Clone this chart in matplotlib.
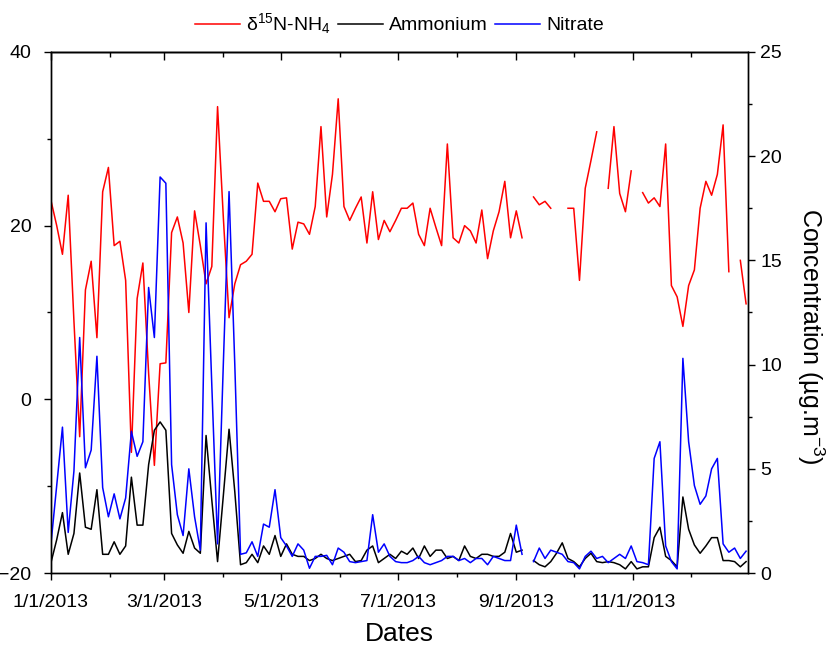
import numpy as np
import pandas as pd
import matplotlib
matplotlib.use("Agg")
from matplotlib import pyplot as plt
import matplotlib.dates as mdates
from matplotlib.ticker import MultipleLocator, FuncFormatter

plt.rcParams['font.family'] = ['Liberation Sans', 'DejaVu Sans']
plt.rcParams['mathtext.default'] = 'regular'

nan = np.nan

# samples every 3 days through 2013
dates = pd.date_range('2013-01-01', periods=122, freq='3D')

# delta 15N of NH4 (per mil), left axis
d15n = [22.9, 20.0, 16.7, 23.5, 9.0, -4.3, 12.6, 15.9, 7.1, 23.9,
        26.7, 17.7, 18.2, 13.7, -6.1, 11.6, 15.7, 3.0, -7.6, 4.1,
        4.2, 19.2, 21.0, 18.0, 10.0, 21.7, 17.7, 13.3, 15.3, 33.7,
        21.0, 9.4, 13.3, 15.5, 15.9, 16.7, 24.9, 22.8, 22.8, 21.6,
        23.1, 23.2, 17.3, 20.4, 20.2, 19.0, 22.2, 31.4, 21.0, 25.9,
        34.6, 22.2, 20.6, 22.0, 23.3, 18.0, 23.9, 18.4, 20.6, 19.3,
        20.6, 22.0, 22.0, 22.6, 19.0, 17.7, 22.0, 19.8, 17.7, 29.4,
        18.6, 18.0, 20.0, 19.4, 18.0, 21.8, 16.2, 19.4, 21.6, 25.1,
        18.6, 21.7, 18.6, nan, 23.3, 22.4, 22.8, 22.0, nan, nan,
        22.0, 22.0, 13.7, 24.3, 27.5, 30.8, nan, 24.3, 31.4, 23.7,
        21.6, 26.3, nan, 23.8, 22.6, 23.2, 22.2, 29.4, 13.1, 11.8,
        8.4, 13.1, 14.9, 22.0, 25.1, 23.5, 25.9, 31.6, 14.7, nan,
        16.0, 11.0]

# concentrations (ug/m3), right axis
ammonium = [0.5, 1.6, 2.9, 0.9, 1.9, 4.8, 2.2, 2.1, 4.0, 0.9,
            0.9, 1.5, 0.9, 1.3, 4.6, 2.3, 2.3, 5.2, 6.85, 7.25,
            6.85, 1.9, 1.35, 0.95, 2.0, 1.2, 0.95, 6.6, 3.5, 0.55,
            3.7, 6.9, 3.9, 0.4, 0.5, 0.9, 0.5, 1.3, 0.9, 1.8,
            0.8, 1.4, 0.9, 0.8, 0.8, 0.6, 0.7, 0.9, 0.7, 0.6,
            0.7, 0.8, 0.9, 0.55, 0.6, 1.1, 1.3, 0.5, 0.7, 0.9,
            0.7, 1.05, 0.9, 1.2, 0.7, 1.3, 0.8, 1.1, 1.1, 0.7,
            0.8, 0.6, 1.3, 0.8, 0.7, 0.9, 0.9, 0.8, 0.8, 1.0,
            1.9, 1.0, 1.1, nan, 0.6, 0.4, 0.3, 0.55, 0.95, 1.45,
            0.7, 0.55, 0.3, 0.7, 0.95, 0.55, 0.5, 0.55, 0.5, 0.4,
            0.2, 0.55, 0.2, 0.3, 0.3, 1.7, 2.2, 0.8, 0.6, 0.3,
            3.65, 2.1, 1.35, 0.95, 1.3, 1.7, 1.7, 0.6, 0.6, 0.55,
            0.3, 0.55]

nitrate = [1.4, 4.2, 7.0, 1.95, 4.9, 11.3, 5.05, 5.9, 10.4, 4.1,
           2.7, 3.8, 2.6, 3.6, 6.8, 5.6, 6.3, 13.7, 11.3, 19.0,
           18.7, 5.2, 2.8, 1.8, 5.0, 2.7, 1.1, 16.8, 9.0, 1.4,
           10.0, 18.3, 10.0, 0.9, 0.97, 1.5, 0.8, 2.35, 2.2, 4.0,
           1.7, 1.3, 0.8, 1.4, 1.1, 0.23, 0.8, 0.8, 0.85, 0.4,
           1.2, 1.0, 0.55, 0.5, 0.55, 0.6, 2.8, 1.0, 1.4, 0.8,
           0.55, 0.5, 0.5, 0.6, 0.8, 0.5, 0.4, 0.5, 0.6, 0.8,
           0.8, 0.6, 0.7, 0.5, 0.7, 0.7, 0.4, 0.8, 0.7, 0.6,
           0.6, 2.3, 0.9, nan, 0.55, 1.2, 0.7, 1.1, 1.0, 0.9,
           0.55, 0.5, 0.2, 0.8, 1.05, 0.7, 0.8, 0.5, 0.7, 0.9,
           0.7, 1.3, 0.55, 0.5, 0.4, 5.5, 6.3, 1.3, 0.55, 0.2,
           10.3, 6.3, 4.2, 3.3, 3.7, 5.0, 5.5, 1.4, 1.0, 1.2,
           0.7, 1.05]

fig = plt.figure(figsize=(8.3, 6.49), dpi=100)
ax = fig.add_axes([0.0614, 0.117, 0.8398, 0.803])
ax2 = ax.twinx()

l1, = ax.plot(dates, d15n, color='#ff0000', lw=1.1, label='δ$^{15}$N-NH$_4$')
l2, = ax2.plot(dates, ammonium, color='black', lw=1.1, label='Ammonium')
l3, = ax2.plot(dates, nitrate, color='#0000ff', lw=1.1, label='Nitrate')

ax.set_xlim(pd.Timestamp('2013-01-01'), pd.Timestamp('2013-12-31'))
ax.set_ylim(-20, 40)
ax2.set_ylim(0, 25)

ax.xaxis.set_major_locator(mdates.MonthLocator(bymonth=[1, 3, 5, 7, 9, 11]))
ax.xaxis.set_minor_locator(mdates.MonthLocator())

def md_label(x, pos):
    d = mdates.num2date(x)
    return f"{d.month}/{d.day}/{d.year}"

ax.xaxis.set_major_formatter(FuncFormatter(md_label))
ax.yaxis.set_major_locator(MultipleLocator(20))
ax.yaxis.set_minor_locator(MultipleLocator(10))
ax2.yaxis.set_major_locator(MultipleLocator(5))
ax2.yaxis.set_minor_locator(MultipleLocator(2.5))

for a in (ax, ax2):
    for s in a.spines.values():
        s.set_linewidth(1.0)
    a.tick_params(which='major', length=5, width=1.0, direction='out', labelsize=14)
    a.tick_params(which='minor', length=3, width=1.0, direction='out')
ax.tick_params(axis='x', which='major', pad=10)
ax.tick_params(axis='y', which='major', pad=9)
ax2.tick_params(axis='y', which='major', pad=4)

# mirrored top axis with inward ticks
top = ax.secondary_xaxis('top')
top.xaxis.set_major_locator(mdates.MonthLocator(bymonth=[1, 3, 5, 7, 9, 11]))
top.xaxis.set_minor_locator(mdates.MonthLocator())
top.tick_params(which='major', direction='in', length=6, width=1.0, labeltop=False)
top.tick_params(which='minor', direction='in', length=3.5, width=1.0)
top.spines['top'].set_linewidth(1.0)

ax.set_xlabel('Dates', fontsize=19, labelpad=8)
ax2.set_ylabel('Concentration (µg.m$^{-3}$)', fontsize=18, rotation=270, va='center')
ax2.yaxis.set_label_coords(1.09, 0.455)

ax.legend(handles=[l1, l2, l3], loc='lower center', bbox_to_anchor=(0.5, 1.0),
          ncol=3, frameon=False, fontsize=14, handlelength=2.3,
          handletextpad=0.3, columnspacing=0.4, borderaxespad=0.4)

fig.savefig('out.png', dpi=100)
